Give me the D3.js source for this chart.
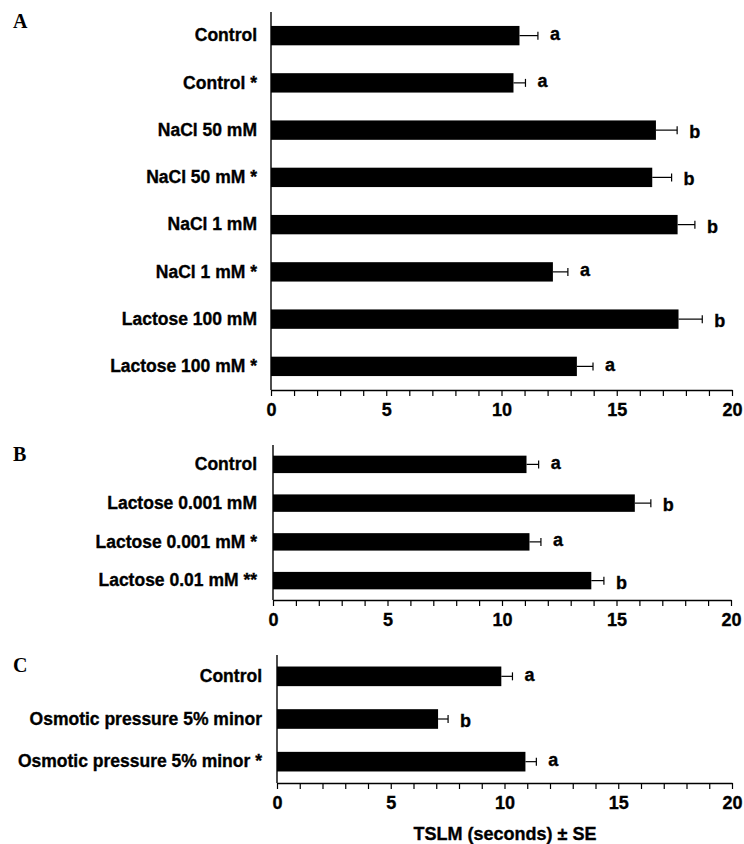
<!DOCTYPE html>
<html>
<head>
<meta charset="utf-8">
<script src="https://cdn.jsdelivr.net/npm/d3@7"></script>
<style>
  body { margin: 0; background: #fff; }
</style>
</head>
<body>
<div id="chart"></div>
<script>
// Panel A
const categoriesA = ["Control", "Control *", "NaCl 50 mM", "NaCl 50 mM *", "NaCl 1 mM", "NaCl 1 mM *", "Lactose 100 mM", "Lactose 100 mM *"];
const valuesA = [10.78, 10.52, 16.70, 16.54, 17.64, 12.23, 17.68, 13.27];
const errorsA = [0.80, 0.52, 0.92, 0.84, 0.75, 0.65, 1.03, 0.70];
const lettersA = ["a", "a", "b", "b", "b", "a", "b", "a"];

// Panel B
const categoriesB = ["Control", "Lactose 0.001 mM", "Lactose 0.001 mM *", "Lactose 0.01 mM **"];
const valuesB = [11.07, 15.80, 11.20, 13.90];
const errorsB = [0.53, 0.70, 0.50, 0.55];
const lettersB = ["a", "b", "a", "b"];

// Panel C
const categoriesC = ["Control", "Osmotic pressure 5% minor", "Osmotic pressure 5% minor *"];
const valuesC = [9.86, 7.08, 10.92];
const errorsC = [0.49, 0.44, 0.48];
const lettersC = ["a", "b", "a"];

// Axis
const xDomain = [0, 20];
const xMinorTicks = d3.range(0, 21, 1);
const xLabelTicks = [0, 5, 10, 15, 20];
const xTitle = "TSLM (seconds) \u00b1 SE";

// Figure
const width = 744;
const height = 844;
const sans = "'Liberation Sans', Arial, Helvetica, sans-serif";
const serif = "'Liberation Serif', 'Times New Roman', serif";

const svg = d3.select("#chart").append("svg")
    .attr("width", width)
    .attr("height", height)
    .attr("viewBox", [0, 0, width, height])
    .style("display", "block")
    .style("background", "#fff");

// Scanned print looks heavier than plain bold, so thicken glyphs a touch.
function heavy(sel) {
  sel.attr("stroke", "#000")
     .attr("stroke-width", 0.35)
     .attr("paint-order", "stroke");
}

function drawPanel(tag, cats, vals, errs, lets, box) {
  // X values
  const x = d3.scaleLinear()
      .domain(xDomain)
      .range([box.x0, box.x1]);

  // Y bands (outer = inner / 2 keeps rows evenly spread)
  const y = d3.scaleBand()
      .domain(cats)
      .range([box.top, box.axisY])
      .paddingInner(box.pad)
      .paddingOuter(box.pad / 2);

  const g = svg.append("g");

  // Panel letter
  g.append("text")
      .attr("x", 13)
      .attr("y", box.tagY)
      .attr("font-family", serif)
      .attr("font-weight", "bold")
      .attr("font-size", 20)
      .text(tag);

  // Bars
  g.selectAll(".bar")
    .data(cats)
    .join("rect")
      .attr("class", "bar")
      .attr("x", x(0))
      .attr("y", d => y(d))
      .attr("width", (d, i) => x(vals[i]) - x(0))
      .attr("height", y.bandwidth())
      .attr("fill", "#000");

  // Error bars
  const eb = g.selectAll(".err")
    .data(cats)
    .join("g")
      .attr("class", "err")
      .attr("stroke", "#000")
      .attr("stroke-width", 1.2);
  eb.append("line")
      .attr("x1", (d, i) => x(vals[i]))
      .attr("x2", (d, i) => x(vals[i] + errs[i]))
      .attr("y1", d => y(d) + y.bandwidth() / 2)
      .attr("y2", d => y(d) + y.bandwidth() / 2);
  eb.append("line")
      .attr("x1", (d, i) => x(vals[i] + errs[i]))
      .attr("x2", (d, i) => x(vals[i] + errs[i]))
      .attr("y1", d => y(d) + y.bandwidth() / 2 - 4)
      .attr("y2", d => y(d) + y.bandwidth() / 2 + 4);

  // Significance letters
  g.selectAll(".sig")
    .data(cats)
    .join("text")
      .attr("class", "sig")
      .attr("x", (d, i) => x(vals[i] + errs[i]) + 12)
      .attr("y", d => y(d) + y.bandwidth() / 2)
      .attr("dy", (d, i) => /[bdfhklt]/.test(lets[i]) ? "0.44em" : "0.24em")
      .attr("font-family", sans)
      .attr("font-weight", "bold")
      .attr("font-size", 18)
      .text((d, i) => lets[i])
      .call(heavy);

  // Category labels
  g.selectAll(".cat")
    .data(cats)
    .join("text")
      .attr("class", "cat")
      .attr("x", box.labelX)
      .attr("y", d => y(d) + y.bandwidth() / 2)
      .attr("dy", "0.33em")
      .attr("text-anchor", "end")
      .attr("font-family", sans)
      .attr("font-weight", "bold")
      .attr("font-size", 17.5)
      .text(d => d)
      .call(heavy);

  // Y-axis line
  g.append("line")
      .attr("x1", x(0))
      .attr("x2", x(0))
      .attr("y1", box.top)
      .attr("y2", box.axisY)
      .attr("stroke", "#000")
      .attr("stroke-width", 1.4);

  // X-axis
  const xAxis = g.append("g")
      .attr("transform", `translate(0,${box.axisY})`)
      .call(d3.axisBottom(x)
        .tickValues(xMinorTicks)
        .tickFormat(d => xLabelTicks.includes(d) ? d : "")
        .tickSize(6)
        .tickSizeOuter(0)
        .tickPadding(7));
  xAxis.select(".domain").attr("stroke-width", 1.4);
  xAxis.selectAll(".tick line").attr("stroke-width", 1.2);
  xAxis.selectAll("text")
      .attr("font-family", sans)
      .attr("font-weight", "bold")
      .attr("font-size", 18)
      .attr("fill", "#000")
      .call(heavy);

  return x;
}

drawPanel("A", categoriesA, valuesA, errorsA, lettersA,
  { x0: 271, x1: 732, top: 12, axisY: 390, pad: 0.59, labelX: 257, tagY: 28 });
drawPanel("B", categoriesB, valuesB, errorsB, lettersB,
  { x0: 273, x1: 731, top: 445, axisY: 600, pad: 0.55, labelX: 257, tagY: 461 });
drawPanel("C", categoriesC, valuesC, errorsC, lettersC,
  { x0: 277, x1: 732, top: 655, axisY: 783, pad: 0.54, labelX: 262, tagY: 672 });

// X-axis title
svg.append("text")
    .attr("x", 505)
    .attr("y", 840)
    .attr("text-anchor", "middle")
    .attr("font-family", sans)
    .attr("font-weight", "bold")
    .attr("font-size", 18)
    .text(xTitle)
    .call(heavy);
</script>
</body>
</html>
